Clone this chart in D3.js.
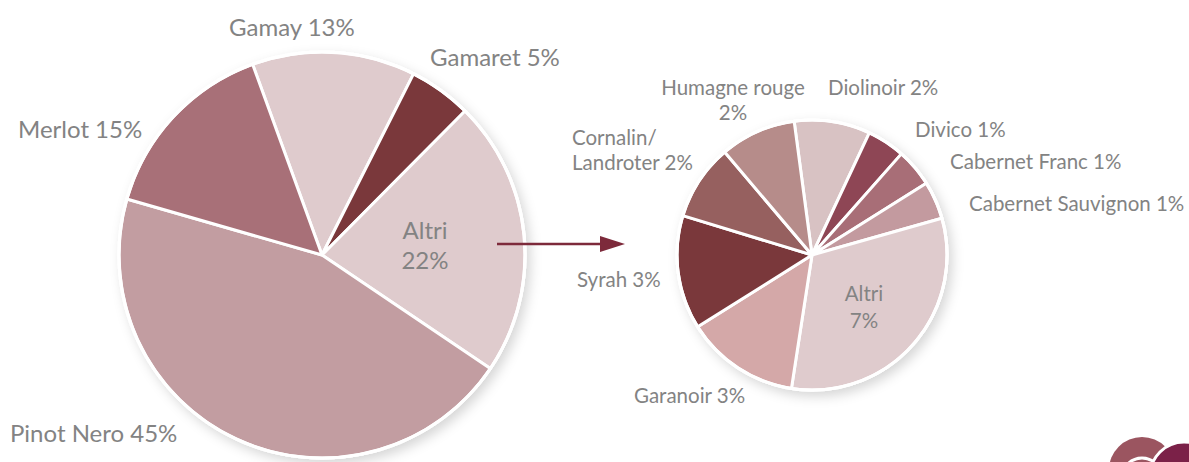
<!DOCTYPE html>
<html>
<head>
<meta charset="utf-8">
<script src="https://cdn.jsdelivr.net/npm/d3@7"></script>
<style>
  body { margin: 0; background: #fff; }
  svg { display: block; font-family: Lato, "Open Sans", sans-serif; }
</style>
</head>
<body>
<div id="chart"></div>
<script>
// Main breakdown (clockwise from Gamay)
const mainNames = ["Gamay", "Gamaret", "Altri", "Pinot Nero", "Merlot"];
const mainValues = [13, 5, 22, 45, 15];
const mainColors = ["#dfcbcd", "#7a383b", "#dfcbcd", "#c29da1", "#a87078"];

// "Altri" detail (clockwise from Diolinoir)
const subNames = ["Diolinoir", "Divico", "Cabernet Franc", "Cabernet Sauvignon", "Altri",
  "Garanoir", "Syrah", "Cornalin/ Landroter", "Humagne rouge"];
const subValues = [2, 1, 1, 1, 7, 3, 3, 2, 2];
const subColors = ["#d8c2c3", "#8e4655", "#a86e77", "#c39a9f", "#dfcbcd",
  "#d4a8a8", "#7a383b", "#96605f", "#b68c8a"];

const width = 1189;
const height = 462;

const svg = d3.select("#chart")
  .append("svg")
  .attr("width", width)
  .attr("height", height)
  .attr("viewBox", [0, 0, width, height]);

// soft shadow behind the pies
const defs = svg.append("defs");
defs.append("filter")
  .attr("id", "shadow")
  .attr("x", "-20%").attr("y", "-20%")
  .attr("width", "140%").attr("height", "140%")
  .append("feDropShadow")
  .attr("dx", 4).attr("dy", 5)
  .attr("stdDeviation", 6)
  .attr("flood-color", "#000")
  .attr("flood-opacity", 0.16);

function drawPie(cx, cy, r, values, colors, startDeg) {
  const pie = d3.pie().sort(null)
    .startAngle(startDeg * Math.PI / 180)
    .endAngle((startDeg + 360) * Math.PI / 180);
  const arc = d3.arc().innerRadius(0).outerRadius(r);
  const g = svg.append("g").attr("transform", `translate(${cx},${cy})`);
  g.append("circle").attr("r", r + 1.5).attr("fill", "#fff").attr("filter", "url(#shadow)");
  g.selectAll("path")
    .data(pie(values))
    .join("path")
    .attr("d", arc)
    .attr("fill", (d, i) => colors[i])
    .attr("stroke", "#fff")
    .attr("stroke-width", 3)
    .attr("stroke-linejoin", "round");
  g.append("circle").attr("r", r).attr("fill", "none").attr("stroke", "#fff").attr("stroke-width", 3);
  return g;
}

drawPie(322, 255, 203, mainValues, mainColors, -20);
drawPie(812, 255, 135, subValues, subColors, -7.6);

// labels
const labelColor = "#838383";
function label(lines, x, y, size, lead, anchor) {
  const t = svg.append("text")
    .attr("x", x).attr("y", y)
    .attr("fill", labelColor)
    .attr("font-size", size)
    .attr("text-anchor", anchor || "start");
  lines.forEach((s, i) => t.append("tspan").attr("x", x).attr("dy", i ? lead : 0).text(s));
}

const mainLayout = {
  "Gamay": { x: 229, y: 36 },
  "Gamaret": { x: 430, y: 66 },
  "Altri": { x: 425, y: 239, anchor: "middle", split: true },
  "Pinot Nero": { x: 10, y: 442 },
  "Merlot": { x: 18, y: 138 }
};
mainNames.forEach((n, i) => {
  const p = mainLayout[n];
  const pct = mainValues[i] + "%";
  label(p.split ? [n, pct] : [n + " " + pct], p.x, p.y, 24, 30, p.anchor);
});

const subLayout = {
  "Diolinoir": { x: 828, y: 95 },
  "Divico": { x: 915, y: 137 },
  "Cabernet Franc": { x: 950, y: 169 },
  "Cabernet Sauvignon": { x: 969, y: 211 },
  "Altri": { x: 864, y: 301, anchor: "middle", split: true, lead: 27 },
  "Garanoir": { x: 634, y: 403 },
  "Syrah": { x: 577, y: 287 },
  "Cornalin/ Landroter": { x: 572, y: 145, wrap: true },
  "Humagne rouge": { x: 733, y: 95, anchor: "middle", split: true }
};
subNames.forEach((n, i) => {
  const p = subLayout[n];
  const pct = subValues[i] + "%";
  let lines;
  if (p.split) lines = [n, pct];
  else if (p.wrap) { const w = n.split(" "); lines = [w[0], w[1] + " " + pct]; }
  else lines = [n + " " + pct];
  label(lines, p.x, p.y, 20.5, p.lead || 25, p.anchor);
});

// arrow from the main "Altri" slice to its detail
svg.append("line")
  .attr("x1", 497).attr("x2", 603)
  .attr("y1", 244).attr("y2", 244)
  .attr("stroke", "#7d2a3b").attr("stroke-width", 2.5);
svg.append("path")
  .attr("d", "M600,236 L625,244 L600,252 Z")
  .attr("fill", "#7d2a3b");

// corner logo
const logo = svg.append("g");
logo.append("circle").attr("cx", 1142).attr("cy", 470).attr("r", 33).attr("fill", "#9b5560");
logo.append("circle").attr("cx", 1142).attr("cy", 478).attr("r", 20).attr("fill", "none")
  .attr("stroke", "#fff").attr("stroke-width", 3);
logo.append("circle").attr("cx", 1184).attr("cy", 476).attr("r", 34).attr("fill", "#7b2148")
  .attr("stroke", "#fff").attr("stroke-width", 3);
</script>
</body>
</html>
